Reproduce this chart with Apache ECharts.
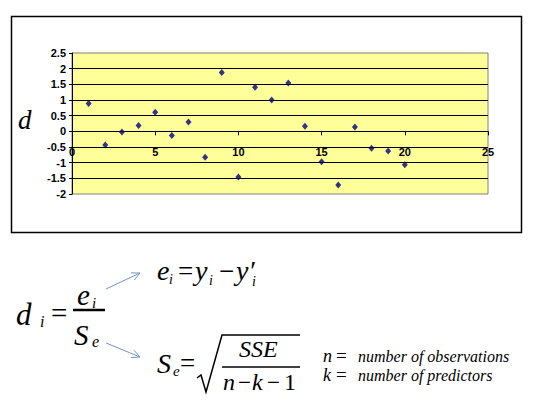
<!DOCTYPE html>
<html>
<head>
<meta charset="utf-8">
<script src="https://cdn.jsdelivr.net/npm/echarts@6/dist/echarts.min.js"></script>
<style>
  html, body { margin: 0; padding: 0; background: #fff; }
  #chart { width: 538px; height: 416px; }
</style>
</head>
<body>
<div id="chart"></div>
<script>
// observation index and standardized residual d
const obsIndex = [1, 2, 3, 4, 5, 6, 7, 8, 9, 10, 11, 12, 13, 14, 15, 16, 17, 18, 19, 20]
const dValues = [0.89, -0.44, -0.02, 0.19, 0.61, -0.13, 0.30, -0.83, 1.88, -1.46,
                 1.41, 1.00, 1.54, 0.16, -0.97, -1.71, 0.14, -0.54, -0.63, -1.07]
// axis ticks
const xTicks = [0, 5, 10, 15, 20, 25]
const yTicks = [-2, -1.5, -1, -0.5, 0, 0.5, 1, 1.5, 2, 2.5]

const serif = '"Liberation Serif", "Times New Roman", serif'
const sans = '"Liberation Sans", Arial, sans-serif'

// grid box
const gridTop = 53, gridHeight = 141
// the x axis crosses at d = 0, so shift it up from the bottom edge
const zeroOffset = gridHeight * (0 - yTicks[0]) / (yTicks[yTicks.length - 1] - yTicks[0])

// text placed by its baseline
function txt(x, base, s, size, italic = true) {
  return {
    type: 'text', x: x, y: base - size * 0.34,
    style: {
      text: s, fill: '#000', verticalAlign: 'middle',
      font: (italic ? 'italic ' : '') + size + 'px ' + serif
    }
  }
}

function line(points, width, color = '#000') {
  return {
    type: 'polyline',
    shape: { points: points },
    style: { stroke: color, lineWidth: width, fill: null }
  }
}

// thin arrow with an open head
function arrow(x1, y1, x2, y2) {
  const a = Math.atan2(y2 - y1, x2 - x1)
  const len = 9, spread = 0.45
  const h1 = [x2 - len * Math.cos(a - spread), y2 - len * Math.sin(a - spread)]
  const h2 = [x2 - len * Math.cos(a + spread), y2 - len * Math.sin(a + spread)]
  return [
    line([[x1, y1], [x2, y2]], 1, '#7095c9'),
    line([h1, [x2, y2], h2], 1, '#7095c9')
  ]
}

const chart = echarts.init(document.getElementById('chart'), null, { renderer: 'svg' })

const graphics = [
  { type: 'rect', shape: { x: 11.5, y: 16.5, width: 510, height: 216 },
    style: { fill: null, stroke: '#000', lineWidth: 1.5 }, z: -1 },
  txt(18, 129, 'd', 27),

  // d_i = e_i / S_e
  txt(16, 325, 'd', 31), txt(40, 327, 'i', 16),
  txt(51, 323, '=', 29, false),
  line([[73, 310], [105, 310]], 2.5),
  txt(77, 305, 'e', 29), txt(92, 308, 'i', 15),
  txt(74, 345, 'S', 29), txt(92, 347, 'e', 16),
  ...arrow(106, 289, 140, 273),
  ...arrow(106, 343, 140, 357),

  // e_i = y_i - y'_i
  txt(157, 280, 'e', 28), txt(169, 284, 'i', 14),
  txt(178, 280, '=', 27, false),
  txt(195, 280, 'y', 28), txt(209, 285, 'i', 14),
  txt(219, 280, '−', 27, false),
  txt(236, 280, 'y′', 28), txt(252, 286, 'i', 14),

  // S_e = sqrt(SSE / (n - k - 1))
  txt(157, 373, 'S', 28), txt(173, 376, 'e', 15),
  txt(180, 372, '=', 27, false),
  line([[197, 378], [201, 375], [206, 392], [222, 335], [300, 335]], 1.5),
  txt(239, 357, 'SSE', 24),
  line([[222, 367], [300, 367]], 1.5),
  txt(223, 390, 'n', 24), txt(238, 390, '−', 23, false),
  txt(252, 390, 'k', 24), txt(267, 390, '−', 23, false),
  txt(284, 390, '1', 24, false),

  // notes
  txt(323, 362, 'n', 18), txt(336, 362, '=', 19, false), txt(358, 362, 'number of observations', 16),
  txt(323, 381, 'k', 18), txt(336, 381, '=', 19, false), txt(358, 381, 'number of predictors', 16)
]

const option = {
  animation: false,
  grid: {
    left: 72, top: gridTop, width: 416, height: gridHeight,
    show: true, backgroundColor: '#ffff99', borderColor: '#808080', borderWidth: 1
  },
  xAxis: {
    type: 'value',
    min: xTicks[0], max: xTicks[xTicks.length - 1], interval: 5,
    offset: -zeroOffset,
    axisLine: { onZero: false, lineStyle: { color: '#000', width: 1 } },
    axisTick: { show: true, length: 4, lineStyle: { color: '#000' } },
    axisLabel: { color: '#000', fontSize: 11, fontWeight: 'bold', fontFamily: sans, margin: 15 },
    splitLine: { show: false }
  },
  yAxis: {
    type: 'value',
    min: yTicks[0], max: yTicks[yTicks.length - 1], interval: 0.5,
    axisLine: { show: true, onZero: false, lineStyle: { color: '#000', width: 1 } },
    axisTick: { show: true, length: 3, lineStyle: { color: '#000' } },
    axisLabel: { color: '#000', fontSize: 11, fontWeight: 'bold', fontFamily: sans, margin: 6 },
    splitLine: { show: true, showMinLine: false, showMaxLine: false, lineStyle: { color: '#000', width: 1 } }
  },
  series: [{
    type: 'scatter',
    data: obsIndex.map((x, i) => [x, dValues[i]]),
    symbol: 'diamond',
    symbolSize: [6, 7],
    itemStyle: { color: '#000080' }
  }],
  graphic: graphics
}

chart.setOption(option)
</script>
</body>
</html>
